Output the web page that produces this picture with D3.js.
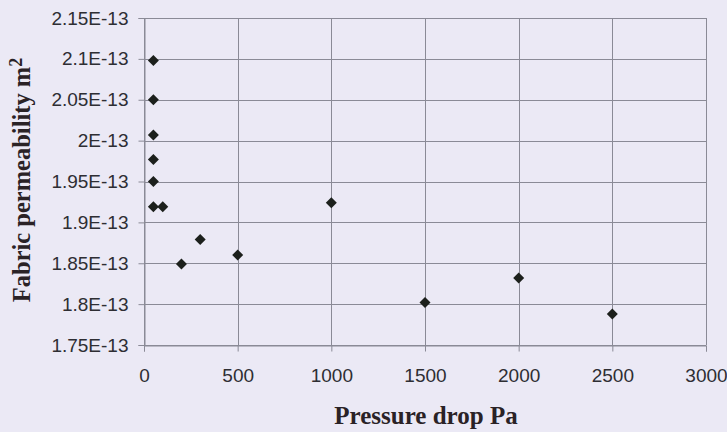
<!DOCTYPE html>
<html>
<head>
<meta charset="utf-8">
<script src="https://cdn.jsdelivr.net/npm/d3@7"></script>
<style>
  html, body { margin: 0; padding: 0; background: #ebe9f5; }
  svg { display: block; }
</style>
</head>
<body>
<div id="chart"></div>
<script>
const width = 727;
const height = 432;

// data
const pressure = [50, 50, 50, 50, 50, 50, 100, 200, 300, 500, 1000, 1500, 2000, 2500];
const permeability = [2.098e-13, 2.05e-13, 2.007e-13, 1.977e-13, 1.95e-13, 1.919e-13, 1.919e-13,
  1.849e-13, 1.879e-13, 1.86e-13, 1.924e-13, 1.802e-13, 1.832e-13, 1.788e-13];

const xTicks = [0, 500, 1000, 1500, 2000, 2500, 3000];
const yTicks = [1.75e-13, 1.8e-13, 1.85e-13, 1.9e-13, 1.95e-13, 2e-13, 2.05e-13, 2.1e-13, 2.15e-13];
const yTickLabels = ["1.75E-13", "1.8E-13", "1.85E-13", "1.9E-13", "1.95E-13", "2E-13", "2.05E-13", "2.1E-13", "2.15E-13"];

const margin = {top: 18, right: 21, bottom: 87, left: 144};
const gridColor = "#8a8a96";

const x = d3.scaleLinear().domain([0, 3000]).range([margin.left, width - margin.right]);
const y = d3.scaleLinear().domain([1.75e-13, 2.15e-13]).range([height - margin.bottom, margin.top]);

const svg = d3.select("#chart").append("svg")
  .attr("width", width)
  .attr("height", height);

// grid
svg.append("g")
  .attr("stroke", gridColor)
  .attr("stroke-width", 1)
  .selectAll("line.h")
  .data(yTicks)
  .join("line")
  .attr("x1", margin.left)
  .attr("x2", width - margin.right)
  .attr("y1", d => Math.round(y(d)) + 0.5)
  .attr("y2", d => Math.round(y(d)) + 0.5);

svg.append("g")
  .attr("stroke", gridColor)
  .attr("stroke-width", 1)
  .selectAll("line.v")
  .data(xTicks)
  .join("line")
  .attr("x1", d => Math.round(x(d)) + 0.5)
  .attr("x2", d => Math.round(x(d)) + 0.5)
  .attr("y1", margin.top)
  .attr("y2", height - margin.bottom);

// axes
const xAxis = svg.append("g")
  .attr("transform", `translate(0,${height - margin.bottom + 0.5})`)
  .call(d3.axisBottom(x).tickValues(xTicks).tickSize(6).tickPadding(17).tickFormat(d3.format("d")));

const yAxis = svg.append("g")
  .attr("transform", `translate(${margin.left + 0.5},0)`)
  .call(d3.axisLeft(y).tickValues(yTicks).tickSize(6).tickPadding(10)
    .tickFormat((d, i) => yTickLabels[i]));

[xAxis, yAxis].forEach(a => {
  a.select(".domain").attr("stroke", gridColor);
  a.selectAll(".tick line").attr("stroke", gridColor);
  a.selectAll(".tick text")
    .attr("fill", "#2e2e33")
    .style("font", "19px 'Liberation Sans', Arial, sans-serif");
});

// points
const diamond = "M0,-5.5L5.5,0L0,5.5L-5.5,0Z";
svg.append("g")
  .attr("fill", "#1c201c")
  .selectAll("path")
  .data(pressure)
  .join("path")
  .attr("d", diamond)
  .attr("transform", (d, i) => `translate(${x(d)},${y(permeability[i])})`);

// titles
svg.append("text")
  .attr("x", 426)
  .attr("y", 424)
  .attr("text-anchor", "middle")
  .attr("fill", "#2a2226")
  .style("font", "bold 25px 'Liberation Serif', 'Times New Roman', serif")
  .text("Pressure drop Pa");

const yt = svg.append("text")
  .attr("transform", "translate(30,180) rotate(-90)")
  .attr("text-anchor", "middle")
  .attr("fill", "#2a2226")
  .style("font", "bold 24.5px 'Liberation Serif', 'Times New Roman', serif");
yt.append("tspan").text("Fabric permeability m");
yt.append("tspan").attr("dy", "-0.45em").style("font-size", "18px").text("2");
</script>
</body>
</html>
